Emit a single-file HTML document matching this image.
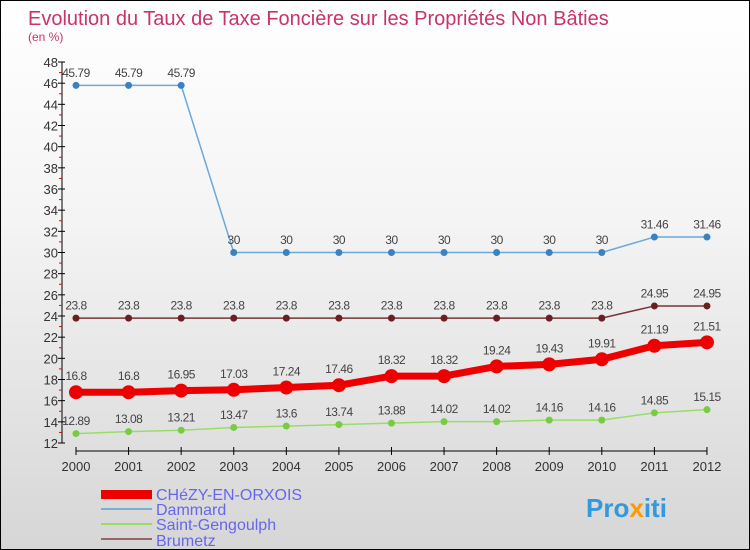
<!DOCTYPE html>
<html><head><meta charset="utf-8"><style>
body{margin:0}
#c{width:748px;height:548px;border:1px solid #000;background:linear-gradient(#fff,#f4f4f4 40%,#d6d6d6);position:relative;font-family:"Liberation Sans",sans-serif}
</style></head><body>
<div id="c">
<svg id="s" width="748" height="548" style="position:absolute;left:0;top:0">
<text x="27" y="24" font-size="20" fill="#c8336a">Evolution du Taux de Taxe Foncière sur les Propriétés Non Bâties</text>
<text x="27" y="40" font-size="12" fill="#c8336a">(en %)</text>
<g id="axes"></g><g id="series"></g>
<g>
<rect x="100" y="489" width="51" height="9" fill="#e00"/>
<text x="155" y="499" font-size="16" fill="#6666ee">CHéZY-EN-ORXOIS</text>
<rect x="100" y="507" width="51" height="2" fill="#7aaed0"/>
<text x="155" y="514" font-size="16" fill="#6666ee">Dammard</text>
<rect x="100" y="522" width="51" height="2" fill="#99dd66"/>
<text x="155" y="529" font-size="16" fill="#6666ee">Saint-Gengoulph</text>
<rect x="100" y="537" width="51" height="2" fill="#996666"/>
<text x="155" y="545" font-size="16" fill="#6666ee">Brumetz</text>
</g>
<text x="585" y="516" font-size="26" font-weight="bold" fill="#3399dd">Pro<tspan fill="#ff9900">x</tspan>iti</text>
</svg>
</div>
<script>
const years=[2000,2001,2002,2003,2004,2005,2006,2007,2008,2009,2010,2011,2012];
const chezy=[16.8,16.8,16.95,17.03,17.24,17.46,18.32,18.32,19.24,19.43,19.91,21.19,21.51];
const dammard=[45.79,45.79,45.79,30,30,30,30,30,30,30,30,31.46,31.46];
const saintG=[12.89,13.08,13.21,13.47,13.6,13.74,13.88,14.02,14.02,14.16,14.16,14.85,15.15];
const brumetz=[23.8,23.8,23.8,23.8,23.8,23.8,23.8,23.8,23.8,23.8,23.8,24.95,24.95];
const yTicks=[12,14,16,18,20,22,24,26,28,30,32,34,36,38,40,42,44,46,48];
const NS="http://www.w3.org/2000/svg";
const X=i=>75+i*52.58, Y=v=>442-(v-12)*(381/36);
function mk(t,a,p){const e=document.createElementNS(NS,t);for(const k in a)e.setAttribute(k,a[k]);p.appendChild(e);return e;}
const ax=document.getElementById('axes');
let l=mk('line',{x1:61,y1:Y(48),x2:61,y2:Y(12),stroke:'#000'},ax);


l=mk('line',{x1:X(0),y1:450,x2:X(12),y2:450,stroke:'#000'},ax);


yTicks.forEach(v=>{mk('line',{x1:57,x2:64,y1:Y(v),y2:Y(v),stroke:'#000'},ax);
 if(v<48)mk('line',{x1:58,x2:61,y1:Y(v+1),y2:Y(v+1),stroke:'#e00'},ax);
 const t=mk('text',{x:57,y:Y(v)+5,'font-size':13,'text-anchor':'end',fill:'#333'},ax);t.textContent=v;
 
 });
years.forEach((y,i)=>{mk('line',{x1:X(i),x2:X(i),y1:446,y2:454,stroke:'#000'},ax);
 const t=mk('text',{x:X(i),y:470,'font-size':13,'text-anchor':'middle',fill:'#333'},ax);t.textContent=y;
 
 });
const sg=document.getElementById('series');
function series(d,name,col,w,r,dot){
 const g=mk('g',{},sg);
 
 
 mk('polyline',{points:d.map((v,i)=>X(i)+','+Y(v)).join(' '),fill:'none',stroke:col,'stroke-width':w},g);
 d.forEach((v,i)=>{const c=mk('circle',{cx:X(i),cy:Y(v),r:r,fill:dot},g);
  
  
  const t=mk('text',{x:X(i),y:Y(v)-r-5,'font-size':12,'text-anchor':'middle',fill:'#444','letter-spacing':'-0.5'},g);t.textContent=v;
  
  });
}
series(dammard,'dammard','#6fa8d6',1.5,3.5,'#3b82c0');
series(brumetz,'brumetz','#7a3535',1.5,3.5,'#6a2020');
series(saintG,'saint-gengoulph','#99dd66',1.5,3.5,'#77cc44');
series(chezy,'chezy','#e00',7,7,'#e00');
</script>
</body></html>
